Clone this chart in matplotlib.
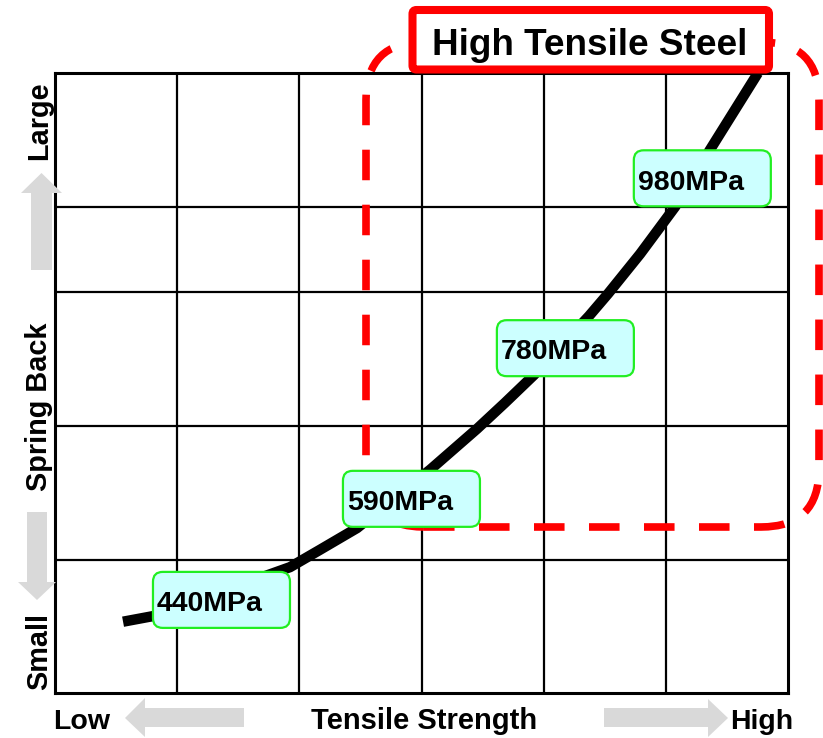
import numpy as np
import matplotlib
matplotlib.use('Agg')
import matplotlib.pyplot as plt
from matplotlib.patches import FancyBboxPatch, Polygon

plt.rcParams['font.family'] = ['Liberation Sans', 'DejaVu Sans']
plt.rcParams['font.weight'] = 'bold'

# curve (x: tensile strength in grid columns, y: spring back 0-100)
curve_x = [0.557, 0.802, 1.924, 2.169, 2.472, 3.070, 3.454, 3.683, 3.921, 4.371, 4.527, 4.789, 5.075, 5.361, 5.754]
curve_y = [11.5, 12.4, 20.3, 23.1, 26.6, 36.0, 42.6, 46.8, 51.3, 60.8, 64.4, 70.8, 78.4, 87.6, 100.0]

# grid
x_grid = [1, 2, 3, 4, 5]
y_grid = [21.5, 43.1, 64.7, 78.4]

# labelled grades (box lower-left corner)
grade_labels = ['440MPa', '590MPa', '780MPa', '980MPa']
grade_x = [0.802, 2.357, 3.617, 4.738]
grade_y = [10.5, 26.8, 51.1, 78.5]

W, H = 823, 738
fig = plt.figure(figsize=(W / 100, H / 100), dpi=100)
ax = fig.add_axes([55 / W, 45 / H, 733 / W, 620 / H])
ax.set_xlim(0, 6)
ax.set_ylim(0, 100)
ax.set_xticks([])
ax.set_yticks([])
for s in ax.spines.values():
    s.set_linewidth(2.2)

for gx in x_grid:
    ax.axvline(gx, color='black', lw=1.6, zorder=1)
for gy in y_grid:
    ax.axhline(gy, color='black', lw=1.6, zorder=1)

# px per data unit, for round corners
asp = (733 / 6) / (620 / 100)
inch = fig.dpi_scale_trans

# red dashed "high tensile" region
region = FancyBboxPatch((3.66, (H - 527) / 100), 4.53, (527 - 42) / 100,
                        boxstyle='round,pad=0,rounding_size=0.58',
                        transform=inch, fill=False, edgecolor='#ff0000',
                        lw=5.5, linestyle=(0, (4, 3.2)), clip_on=False, zorder=2)
ax.add_patch(region)

ax.plot(curve_x, curve_y, color='black', lw=7.5, solid_capstyle='butt',
        solid_joinstyle='round', zorder=3)

bw = 137 / (733 / 6)
bh = 56 / (620 / 100)
for lab, bx, by in zip(grade_labels, grade_x, grade_y):
    box = FancyBboxPatch((bx, by), bw, bh,
                         boxstyle='round,pad=0,rounding_size=0.08',
                         mutation_aspect=asp, facecolor='#ccffff',
                         edgecolor='#22ee22', lw=1.6, clip_on=False, zorder=4)
    ax.add_patch(box)
    ax.text(bx + 0.033, by + 2.7, lab, fontsize=20.5, fontweight='bold',
            ha='left', va='baseline', zorder=5, clip_on=False)

# title box
title_box = FancyBboxPatch((4.125, (H - 69.5) / 100), 3.565, 0.595,
                           boxstyle='round,pad=0,rounding_size=0.04',
                           transform=inch, facecolor='white', edgecolor='#ff0000',
                           lw=5.8, clip_on=False, zorder=6)
ax.add_patch(title_box)
fig.text(590 / W, 1 - 55 / H, 'High Tensile Steel', fontsize=26.6,
         fontweight='bold', ha='center', va='baseline', zorder=7)

# gray arrows (pixel coordinates)
def px(pts):
    return [(x / W, 1 - y / H) for x, y in pts]

grey = '#d9d9d9'
up = [(31, 270), (31, 193), (21, 193), (41.5, 173), (62, 193), (52, 193), (52, 270)]
down = [(27, 512), (27, 582), (18, 582), (37, 600), (56, 582), (47, 582), (47, 512)]
left = [(244, 708), (145, 708), (145, 698), (125, 718), (145, 737), (145, 727), (244, 727)]
right = [(604, 708), (708, 708), (708, 699), (728, 718), (708, 737), (708, 727), (604, 727)]
for pts in (up, down, left, right):
    fig.add_artist(Polygon(px(pts), closed=True, facecolor=grey, edgecolor='none',
                           transform=fig.transFigure))

# axis words
fig.text(53 / W, 1 - 729 / H, 'Low', fontsize=20.5, fontweight='bold', ha='left', va='baseline')
fig.text(424 / W, 1 - 729 / H, 'Tensile Strength', fontsize=21, fontweight='bold',
         ha='center', va='baseline')
fig.text(793 / W, 1 - 729 / H, 'High', fontsize=20.5, fontweight='bold', ha='right', va='baseline')
for word, cy in (('Large', 121), ('Spring Back', 407), ('Small', 651)):
    fig.text(47 / W, 1 - cy / H, word, fontsize=20.8, fontweight='bold', rotation=90,
             rotation_mode='anchor', ha='center', va='baseline')

fig.savefig('out.png', dpi=100)
